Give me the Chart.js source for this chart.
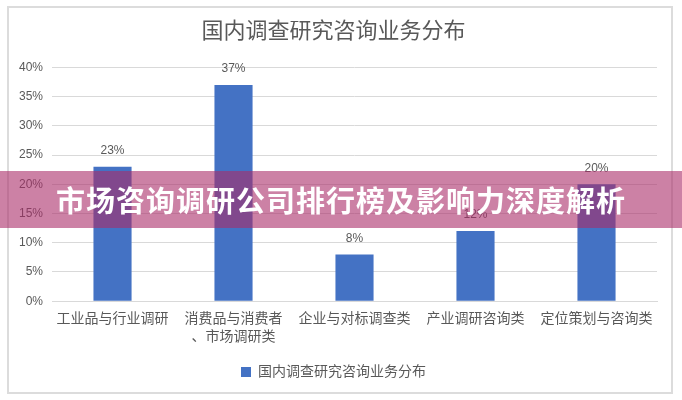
<!DOCTYPE html>
<html>
<head>
<meta charset="utf-8">
<script src="https://cdn.jsdelivr.net/npm/chart.js@4.4.0/dist/chart.umd.min.js"></script>
<style>
  html, body { margin: 0; padding: 0; background: #ffffff; }
  #wrap { position: relative; width: 682px; height: 400px; overflow: hidden; }
  #frame {
    position: absolute; left: 7px; top: 6px; width: 662px; height: 384px;
    border: 2px solid #dcdcdc; pointer-events: none;
  }
  #banner {
    position: absolute; left: 0; top: 171px; width: 682px; height: 57px;
    background: rgba(170, 45, 105, 0.6);
    color: #ffffff; font-family: "Noto Sans CJK SC", sans-serif; font-weight: 700;
    font-size: 29px; line-height: 57px; text-align: center; letter-spacing: 1px;
  }
</style>
</head>
<body>
<div id="wrap">
  <canvas id="chart" width="682" height="400"></canvas>
  <div id="frame"></div>
  <div id="banner">市场咨询调研公司排行榜及影响力深度解析</div>
</div>
<script>
const chartTitle = '国内调查研究咨询业务分布';
const seriesName = '国内调查研究咨询业务分布';
const categories = [
  '工业品与行业调研',
  ['消费品与消费者', '、市场调研类'],
  '企业与对标调查类',
  '产业调研咨询类',
  '定位策划与咨询类',
];
const shares = [23, 37, 8, 12, 20];
const yTicks = [0, 5, 10, 15, 20, 25, 30, 35, 40];

const TEXT = '#595959';
const FONT = "'Liberation Sans', 'Noto Sans CJK SC', sans-serif";

const valueLabels = {
  id: 'valueLabels',
  afterDatasetsDraw(chart) {
    const { ctx } = chart;
    const meta = chart.getDatasetMeta(0);
    ctx.save();
    ctx.fillStyle = TEXT;
    ctx.font = `12px ${FONT}`;
    ctx.textAlign = 'center';
    ctx.textBaseline = 'bottom';
    meta.data.forEach((bar, i) => {
      ctx.fillText(shares[i] + '%', bar.x, bar.y - 10);
    });
    ctx.restore();
  },
};

new Chart(document.getElementById('chart'), {
  type: 'bar',
  data: {
    labels: categories,
    datasets: [{
      label: seriesName,
      data: shares,
      backgroundColor: '#4472c4',
      barPercentage: 0.315,
      categoryPercentage: 1,
    }],
  },
  options: {
    responsive: false,
    animation: false,
    layout: { padding: { top: 12, left: 10, right: 25, bottom: 11 } },
    plugins: {
      title: {
        display: true,
        text: chartTitle,
        color: TEXT,
        font: { family: FONT, size: 22, weight: 'normal' },
        padding: { top: 7, bottom: 22 },
      },
      legend: {
        display: true,
        position: 'bottom',
        labels: {
          color: TEXT,
          font: { family: FONT, size: 14 },
          boxWidth: 10,
          boxHeight: 10,
          padding: 10,
        },
      },
      tooltip: { enabled: false },
    },
    scales: {
      x: {
        grid: { display: false, drawTicks: false },
        border: { display: true, color: '#d9d9d9' },
        ticks: {
          color: TEXT,
          font: { family: FONT, size: 14, lineHeight: 1.35 },
          maxRotation: 0,
          autoSkip: false,
          padding: 8,
        },
      },
      y: {
        min: 0,
        max: 40,
        afterBuildTicks(axis) {
          axis.ticks = yTicks.map((v) => ({ value: v }));
        },
        grid: { color: '#d9d9d9', drawTicks: false },
        border: { display: false },
        ticks: {
          color: TEXT,
          font: { family: FONT, size: 12 },
          padding: 9,
          callback(value) {
            return value + '%';
          },
        },
      },
    },
  },
  plugins: [valueLabels],
});
</script>
</body>
</html>
